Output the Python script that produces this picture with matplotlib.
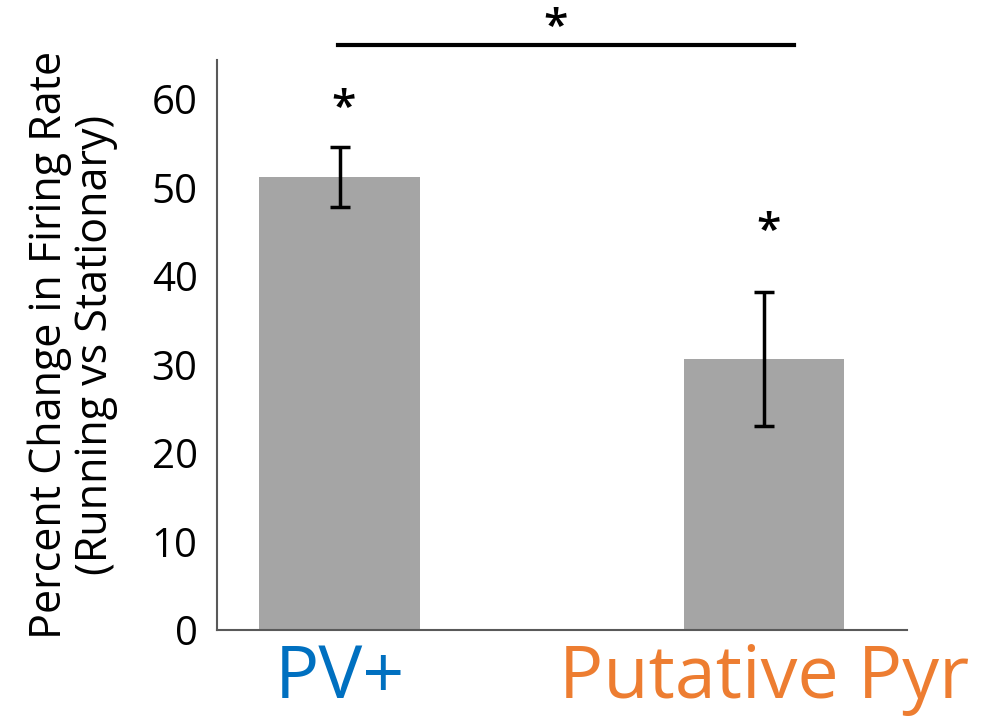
import matplotlib
matplotlib.use("Agg")
import matplotlib.pyplot as plt

groups = ["PV+", "Putative Pyr"]
pct_change = [51.2, 30.6]
sem = [3.4, 7.6]
star_y = [58.8, 44.9]
label_colors = ["#0070C0", "#ED7D31"]
yticks = [0, 10, 20, 30, 40, 50, 60]

plt.rcParams['font.family'] = ['Open Sans', 'DejaVu Sans']

fig = plt.figure(figsize=(10.02, 7.22), dpi=100)
ax = fig.add_axes([217/1002, 1 - 630/722, (907-217)/1002, (630-60)/722])

x = [0, 1]
ax.bar(x, pct_change, width=0.379, color="#A5A5A5", zorder=2)
ax.errorbar(x, pct_change, yerr=sem, fmt="none", ecolor="black",
            elinewidth=2.5, capsize=7, capthick=2.5, zorder=3)

ax.set_xlim(-0.289, 1.337)
ax.set_ylim(0, 64.4)
ax.set_yticks(yticks)
ax.set_yticklabels([str(t) for t in yticks], fontsize=29)
ax.tick_params(axis="y", length=0, pad=14)
ax.set_xticks(x)
ax.set_xticklabels(groups, fontsize=53)
ax.tick_params(axis="x", length=0, pad=9)
for lab, c in zip(ax.get_xticklabels(), label_colors):
    lab.set_color(c)

for side in ["top", "right"]:
    ax.spines[side].set_visible(False)
for side in ["left", "bottom"]:
    ax.spines[side].set_color("#595959")
    ax.spines[side].set_linewidth(1.5)

ax.set_ylabel("Percent Change in Firing Rate\n(Running vs Stationary)",
              fontsize=31, labelpad=24, linespacing=1.05)

# significance markers
for xi, sy in zip(x, star_y):
    ax.text(xi + 0.01, sy, "*", ha="center", va="center", fontsize=32,
            fontweight="semibold")

ax.plot([-0.004, 1.07], [66.1, 66.1], color="black", lw=3, clip_on=False)
ax.text(0.51, 68.0, "*", ha="center", va="center", fontsize=32,
        fontweight="semibold", clip_on=False)

fig.savefig("out.png", dpi=100)
